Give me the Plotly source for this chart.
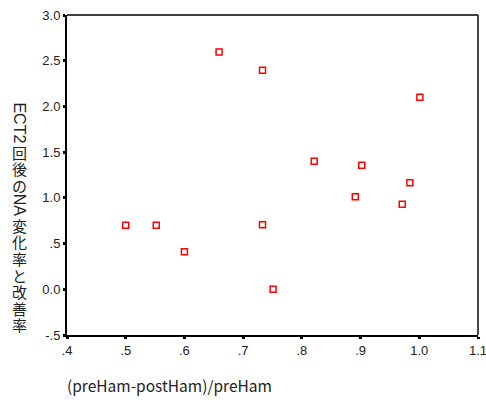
import plotly.graph_objects as go

# Data
x_vals = [0.50, 0.552, 0.60, 0.659, 0.733, 0.733, 0.751, 0.821, 0.891, 0.902, 0.971, 0.984, 1.001]
y_vals = [0.70, 0.70, 0.41, 2.595, 2.395, 0.706, 0.00, 1.40, 1.012, 1.356, 0.929, 1.165, 2.10]

x_ticks = [0.4, 0.5, 0.6, 0.7, 0.8, 0.9, 1.0, 1.1]
x_tick_labels = [".4", ".5", ".6", ".7", ".8", ".9", "1.0", "1.1"]
y_ticks = [3.0, 2.5, 2.0, 1.5, 1.0, 0.5, 0.0, -0.5]
y_tick_labels = ["3.0", "2.5", "2.0", "1.5", "1.0", ".5", "0.0", "-.5"]

x_title = "(preHam-postHam)/preHam"
# vertical (tategaki) y title: (text, rotated?)
y_title_segments = [
    ("ECT2", True), ("回", False), ("後", False), ("の", False),
    ("NA", True), ("変", False), ("化", False), ("率", False),
    ("と", False), ("改", False), ("善", False), ("率", False),
]

W, H = 486, 400
L, R, T, B = 67, 8, 15, 65
pw, ph = W - L - R, H - T - B

def px(xp):
    return (xp - L) / pw

def py(yp):
    return (H - B - yp) / ph

fig = go.Figure()
fig.add_trace(go.Scatter(
    x=x_vals, y=y_vals, mode="markers",
    marker=dict(symbol="square-open", size=6, color="#ff0000", line=dict(width=1.5, color="#ff0000")),
    showlegend=False, hoverinfo="skip",
))

tickfont = dict(family="Liberation Sans, Arial, sans-serif", size=13, color="#222222")

fig.update_layout(
    width=W, height=H,
    margin=dict(l=L, r=R, t=T, b=B, pad=0, autoexpand=False),
    paper_bgcolor="white", plot_bgcolor="white",
    xaxis=dict(range=[0.4, 1.1], tickvals=x_ticks, ticktext=x_tick_labels,
               showgrid=False, zeroline=False, showline=True, linecolor="black", linewidth=2,
               ticks="outside", ticklen=2, tickwidth=3, tickcolor="black", tickfont=tickfont,
               ticklabeloverflow="allow"),
    yaxis=dict(range=[-0.5, 3.0], tickvals=y_ticks, ticktext=y_tick_labels,
               showgrid=False, zeroline=False, showline=True, linecolor="black", linewidth=2,
               ticks="outside", ticklen=2, tickwidth=3, tickcolor="black", tickfont=tickfont,
               ticklabeloverflow="allow"),
)

# top and right frame
fig.add_shape(type="line", xref="paper", yref="paper", x0=0, x1=1, y0=1, y1=1,
              line=dict(color="black", width=1.5))
fig.add_shape(type="line", xref="paper", yref="paper", x0=1, x1=1, y0=0, y1=1,
              line=dict(color="#444444", width=2))

annos = []
annos.append(dict(text=x_title, xref="paper", yref="paper", x=px(65), y=py(385),
                  xanchor="left", yanchor="middle", showarrow=False,
                  font=dict(family="Noto Sans CJK JP", size=15.5, color="#222222")))

# lay out the vertical title from the top
fs = 16
cjk_pitch = 16.6
latin_em = {"ECT2": 2.556, "NA": 1.389}
ycur = 102.0
xc = 19.5
for txt, rot in y_title_segments:
    if rot:
        length = latin_em[txt] * fs + 1
        annos.append(dict(text=txt, xref="paper", yref="paper", x=px(xc), y=py(ycur + length / 2),
                          xanchor="center", yanchor="middle", showarrow=False, textangle=90,
                          font=dict(family="Liberation Sans, Arial", size=fs, color="#222222")))
    else:
        length = cjk_pitch
        annos.append(dict(text=txt, xref="paper", yref="paper", x=px(xc), y=py(ycur + length / 2),
                          xanchor="center", yanchor="middle", showarrow=False,
                          font=dict(family="Noto Sans CJK JP", size=fs - 1, color="#222222")))
    ycur += length
fig.update_layout(annotations=annos)

fig.write_html("out.html", config={"displayModeBar": False},
               post_script="document.body.style.margin='0';document.body.style.padding='0';")
